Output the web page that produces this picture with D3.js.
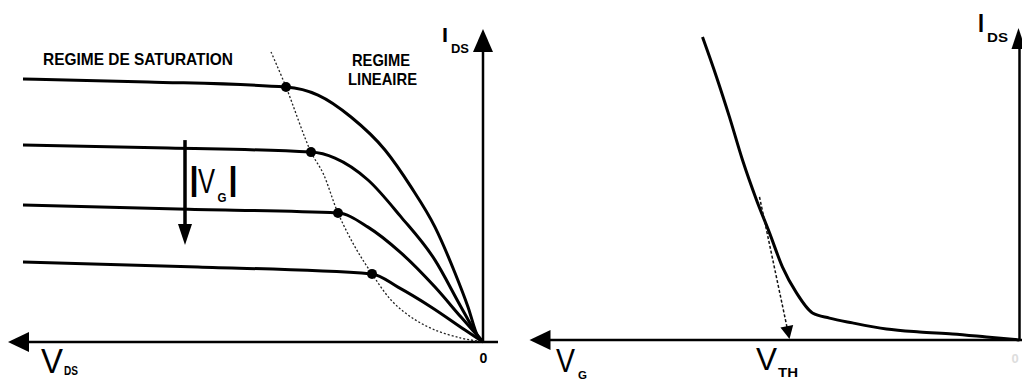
<!DOCTYPE html>
<html><head><meta charset="utf-8">
<script src="https://cdn.jsdelivr.net/npm/d3@7"></script>
<style>html,body{margin:0;padding:0;background:#fff;overflow:hidden}</style>
</head><body><svg id="c" width="1022" height="379"></svg>
<script>
// ---------- Left panel: I_DS vs V_DS (V_DS grows leftward), values in arbitrary units ----------
const curveVg1 = [[92,87.7],[67,86.7],[39.4,85],[33,82.3],[26.4,75],[19.6,64],[14.4,51.7],[9.6,38.3],[5.6,23],[3,11.7],[1,1.7],[0,0]];
const curveVg2 = [[92,65.7],[63,64.7],[34.4,63.3],[29.6,61.3],[23,54],[16.4,41.7],[9.6,27.3],[4.4,11.7],[1.4,3],[0,0]];
const curveVg3 = [[92,45.7],[61,44.3],[29,43],[23,38.3],[16.4,29.7],[9.6,18.3],[4.4,8.3],[0,0]];
const curveVg4 = [[92,26.7],[57,25],[22.2,22.7],[17,18.3],[10.4,11.7],[3.6,4],[0,0]];
const saturationPoints = [[39.4,85],[34.4,63.3],[29,43],[22.2,22.7]];
const saturationBoundary = [[42.4,96.7],[39.4,85],[34.4,63.3],[32,56.3],[29,43],[25.6,31.7],[22.2,22.7],[18.4,14],[14.4,8.3],[9.6,4],[4.4,1.3],[1,0.3],[0,0]];
const vgArrow = {vds: 59.6, from: 67.3, to: 32.3};

// ---------- Right panel: I_DS vs V_G (V_G grows leftward) ----------
const transfer = [[63.4,101],[60.6,87.7],[58,74.3],[55.4,60],[52.6,46.7],[50,35.7],[47.4,24.3],[44.6,15.7],[41.4,9],[38,7.3],[33.4,5.7],[26.6,3.7],[20,2.7],[13.4,2],[6.6,1],[0,0]];
const vth = 46;
const tangentStart = [52, 47.7];

const svg = d3.select('#c');
const FONT = '"Liberation Sans", Arial, sans-serif';

const xL = d3.scaleLinear().domain([0, 95]).range([483, 8]);
const yL = d3.scaleLinear().domain([0, 100]).range([342, 42]);
const xR = d3.scaleLinear().domain([0, 98]).range([1019.5, 529.5]);
const yR = d3.scaleLinear().domain([0, 100]).range([340, 40]);

function arrowHead(g, tip, dir, len, half) {
  const [tx, ty] = tip; const [dx, dy] = dir;
  const bx = tx - dx*len, by = ty - dy*len;
  const px = -dy, py = dx;
  g.append('path').attr('d', `M${tx},${ty}L${bx+px*half},${by+py*half}L${bx-px*half},${by-py*half}Z`).attr('fill', '#000');
}

// Axes left
const gL = svg.append('g');
gL.append('line').attr('x1', xL(-3)).attr('x2', xL(91)).attr('y1', yL(0)).attr('y2', yL(0)).attr('stroke', '#000').attr('stroke-width', 2.5);
arrowHead(gL, [xL(95), yL(0)], [-1, 0], 21, 10);
gL.append('line').attr('x1', xL(0)).attr('x2', xL(0)).attr('y1', yL(0)+1).attr('y2', yL(96.7)).attr('stroke', '#000').attr('stroke-width', 2.5);
arrowHead(gL, [xL(0), yL(104.3)], [0, -1], 23, 10);

const lineL = d3.line().x(d => xL(d[0])).y(d => yL(d[1])).curve(d3.curveMonotoneX);
gL.append('path').datum(saturationBoundary).attr('d', d3.line().x(d => xL(d[0])).y(d => yL(d[1])).curve(d3.curveCatmullRom.alpha(0.5)))
  .attr('fill', 'none').attr('stroke', '#222').attr('stroke-width', 1.3).attr('stroke-dasharray', '2,2');
[curveVg1, curveVg2, curveVg3, curveVg4].forEach(c => {
  gL.append('path').datum(c).attr('d', lineL).attr('fill', 'none').attr('stroke', '#000').attr('stroke-width', 3);
});
gL.selectAll('circle').data(saturationPoints).join('circle').attr('cx', d => xL(d[0])).attr('cy', d => yL(d[1])).attr('r', 5).attr('fill', '#000');

// |VG| arrow
gL.append('line').attr('x1', xL(vgArrow.vds)).attr('x2', xL(vgArrow.vds)).attr('y1', yL(vgArrow.from)).attr('y2', yL(vgArrow.to) - 18).attr('stroke', '#000').attr('stroke-width', 3.5);
arrowHead(gL, [xL(vgArrow.vds), yL(vgArrow.to)], [0, 1], 21, 7);

// Axes right
const gR = svg.append('g');
gR.append('line').attr('x1', xR(-1)).attr('x2', xR(94)).attr('y1', yR(0)).attr('y2', yR(0)).attr('stroke', '#000').attr('stroke-width', 2.5);
arrowHead(gR, [xR(98), yR(0)], [-1, 0], 21, 10);
gR.append('line').attr('x1', xR(0)).attr('x2', xR(0)).attr('y1', yR(0)+1).attr('y2', yR(97)).attr('stroke', '#000').attr('stroke-width', 2.5);
arrowHead(gR, [xR(0) - 1, yR(104)], [0, -1], 21, 7);

const lineR = d3.line().x(d => xR(d[0])).y(d => yR(d[1])).curve(d3.curveMonotoneX);
gR.append('path').datum(transfer).attr('d', lineR).attr('fill', 'none').attr('stroke', '#000').attr('stroke-width', 3);

// tangent to V_TH
const t0 = [xR(tangentStart[0]), yR(tangentStart[1])], t1 = [xR(vth), yR(0) - 1];
const tl = Math.hypot(t1[0]-t0[0], t1[1]-t0[1]);
const td = [(t1[0]-t0[0])/tl, (t1[1]-t0[1])/tl];
gR.append('line').attr('x1', t0[0]).attr('y1', t0[1]).attr('x2', t1[0] - td[0]*10).attr('y2', t1[1] - td[1]*10)
  .attr('stroke', '#111').attr('stroke-width', 1.5).attr('stroke-dasharray', '3,2');
arrowHead(gR, t1, td, 13, 6.5);

// Text
function txt(x, y, s, size, weight, len, anchor, fill) {
  const t = svg.append('text').attr('x', x).attr('y', y).text(s).attr('font-family', FONT)
    .attr('font-size', size).attr('font-weight', weight || 'normal').attr('fill', fill || '#000');
  if (len) t.attr('textLength', len).attr('lengthAdjust', 'spacingAndGlyphs');
  if (anchor) t.attr('text-anchor', anchor);
  return t;
}
txt(43, 65, 'REGIME DE SATURATION', 16.5, 'bold', 190);
txt(352, 66, 'REGIME', 16.5, 'bold', 58);
txt(348, 85, 'LINEAIRE', 16.5, 'bold', 69);

txt(442, 42, 'I', 21, 'bold', 6);
txt(451, 53, 'DS', 12.5, 'bold', 18);
txt(41, 373, 'V', 35, 'normal', 22);
txt(64, 375, 'DS', 12.5, 'bold', 14);
txt(483.5, 363, '0', 14, 'bold', null, 'middle');

// |V_G|
txt(194, 190, '|', 34, 'bold', null, 'middle');
svg.append('text').attr('transform', 'translate(198,193) scale(0.73,1)').attr('font-family', FONT)
  .attr('font-size', 35).attr('fill', '#000').text('V');
txt(217.5, 202, 'G', 12.5, 'bold', 9);
txt(233, 190, '|', 34, 'bold', null, 'middle');

txt(978, 32, 'I', 25, 'bold', 6);
txt(987, 42, 'DS', 13, 'bold', 21);
txt(556, 372, 'V', 34, 'normal', 19);
txt(578, 378.5, 'G', 11, 'bold', 9);
txt(756, 370, 'V', 32, 'normal', 21);
txt(778, 377, 'TH', 13, 'bold', 20);
txt(1015, 363, '0', 13, 'bold', null, 'middle', '#ddd');
</script></body></html>
